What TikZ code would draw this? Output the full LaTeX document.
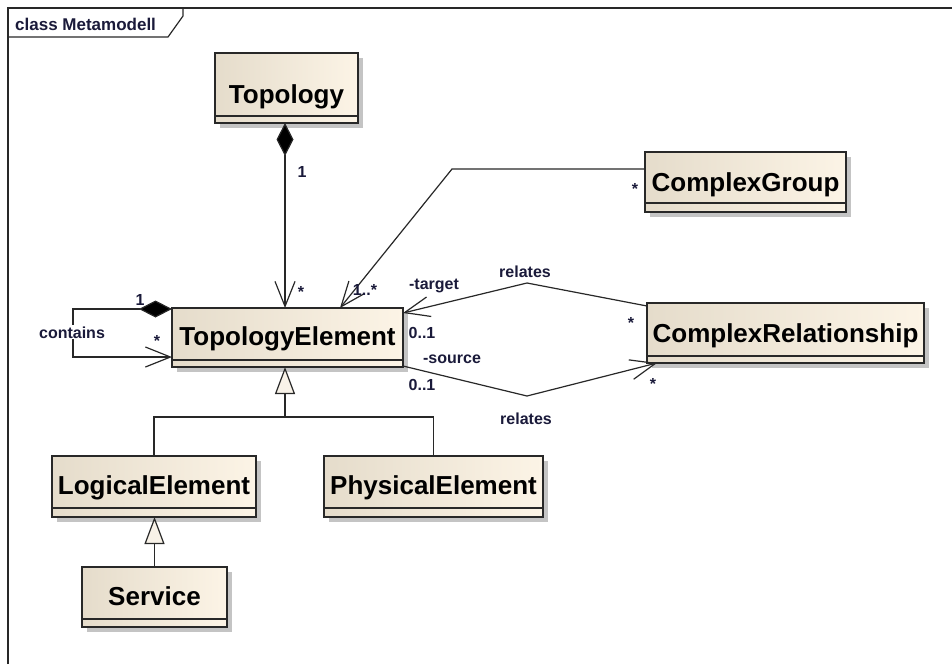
\documentclass[tikz,border=0pt]{standalone}
\usepackage{fontspec}
\setmainfont{Liberation Sans}
\usetikzlibrary{arrows.meta,shadows}

\definecolor{clsL}{RGB}{229,220,203}
\definecolor{clsR}{RGB}{252,244,230}
\definecolor{clsShadow}{RGB}{196,196,196}
\definecolor{edgec}{RGB}{40,40,40}
\definecolor{lblc}{RGB}{26,26,58}
\definecolor{genFill}{RGB}{248,242,232}

\tikzset{
  clsbox/.style={draw=edgec, line width=1.3pt, left color=clsL, right color=clsR,
    general shadow={fill=clsShadow, shadow xshift=5pt, shadow yshift=-5pt},
    inner sep=0pt, outer sep=0pt, anchor=north west},
  clssep/.style={draw=edgec, line width=1.3pt},
  clsname/.style={font=\fontsize{26}{30}\selectfont\bfseries, text=black, inner sep=0pt, anchor=base},
  lbl/.style={font=\fontsize{16}{19}\selectfont\bfseries, text=lblc, inner sep=0pt, anchor=base},
  conn/.style={draw=edgec, line width=1.2pt},
  navhead/.style={-{Straight Barb[length=25pt,width=20pt]}},
  comphead/.style={{Diamond[length=33pt,width=17pt,fill=black]}-{Straight Barb[length=25pt,width=20pt]}},
  genhead/.style={-{Triangle[length=27pt,width=20pt,fill=genFill]}},
  framec/.style={draw=edgec, line width=1.2pt},
}

% class box: name, x1, y1, x2, y2, separator y, baseline y, title
\newcommand\umlclass[8]{%
  \node[clsbox, minimum width={(#4-#2)*1pt}, minimum height={(#5-#3)*1pt}] (#1) at (#2,#3) {};
  \draw[clssep] (#2,#6) -- (#4,#6);
  \node[clsname] (#1-title) at ({(#2+#4)/2},#7) {#8};
}

\begin{document}
\begin{tikzpicture}[x=1pt,y=-1pt]
\useasboundingbox[fill=white] (0,0) rectangle (952,664);

% diagram frame and its name tab
\draw[framec] (8,664) -- (8,8) -- (952,8);
\draw[framec] (8,37) -- (168,37) -- (183,16) -- (183,8);
\node[font=\fontsize{17}{20}\selectfont\bfseries, text=lblc, inner sep=0pt, anchor=base west]
  (frametitle) at (15,30) {class Metamodell};

% classes
\umlclass{topo}{215}{53}{358}{123}{116}{103}{Topology}
\umlclass{te}{172}{308}{403}{367}{360}{345}{TopologyElement}
\umlclass{cg}{645}{152}{846}{212}{203}{191}{ComplexGroup}
\umlclass{cr}{647}{303}{924}{363}{356}{342}{ComplexRelationship}
\umlclass{le}{52}{456}{256}{517}{508}{494}{LogicalElement}
\umlclass{pe}{324}{456}{543}{517}{508}{494}{PhysicalElement}
\umlclass{sv}{82}{567}{227}{627}{619}{605}{Service}

% composition Topology -> TopologyElement
\draw[conn, comphead] ([xshift=-1.5pt]topo.south) -- ([xshift=-1.5pt]topo.south |- te.north);

% self composition "contains"
\draw[conn, comphead] ([yshift=-1pt]te.north west) -- ++(-99,0) |- ([yshift=10pt]te.south west);

% ComplexGroup -> TopologyElement
\coordinate (cgbend) at (452,169);
\draw[conn, navhead] ([yshift=13pt]cg.west) -- (cgbend) -- ([xshift=168pt]te.north west);

% relates (target)
\coordinate (tgtbend) at (527,283);
\draw[conn, navhead] ([yshift=-3pt]cr.north west) -- (tgtbend) -- ([yshift=-5pt]te.north east);

% relates (source)
\coordinate (srcbend) at (527,396);
\draw[conn, navhead] ([yshift=1pt]te.south east) -- (srcbend) -- ([xshift=10pt]cr.south west);

% generalizations
\coordinate (genjoin) at (285,417);
\draw[conn] (le.north) |- (genjoin) -| (pe.north);
\draw[conn, genhead] (genjoin) -- (genjoin |- te.south);
\draw[conn, genhead] (sv.north) -- (sv.north |- le.south);

% association labels
\node[lbl] (m-topo1) at (302,177) {1};
\node[lbl] (m-topostar) at (301,297) {*};
\node[lbl] (m-cgte) at (365,295) {1..*};
\node[lbl] (m-cgstar) at (635,194) {*};
\node[lbl] (rel-top) at (525,277) {relates};
\node[lbl] (role-target) at (434,289) {-target};
\node[lbl] (m-target) at (422,338) {0..1};
\node[lbl] (m-crtarget) at (631,328) {*};
\node[lbl] (role-source) at (452,363) {-source};
\node[lbl] (m-source) at (422,390) {0..1};
\node[lbl] (m-crsource) at (653,389) {*};
\node[lbl] (rel-bottom) at (526,424) {relates};
\node[lbl, fill=white, inner sep=1pt] (contains) at (72,338) {contains};
\node[lbl] (m-contains1) at (140,305) {1};
\node[lbl] (m-containsstar) at (157,346) {*};
\end{tikzpicture}
\end{document}
